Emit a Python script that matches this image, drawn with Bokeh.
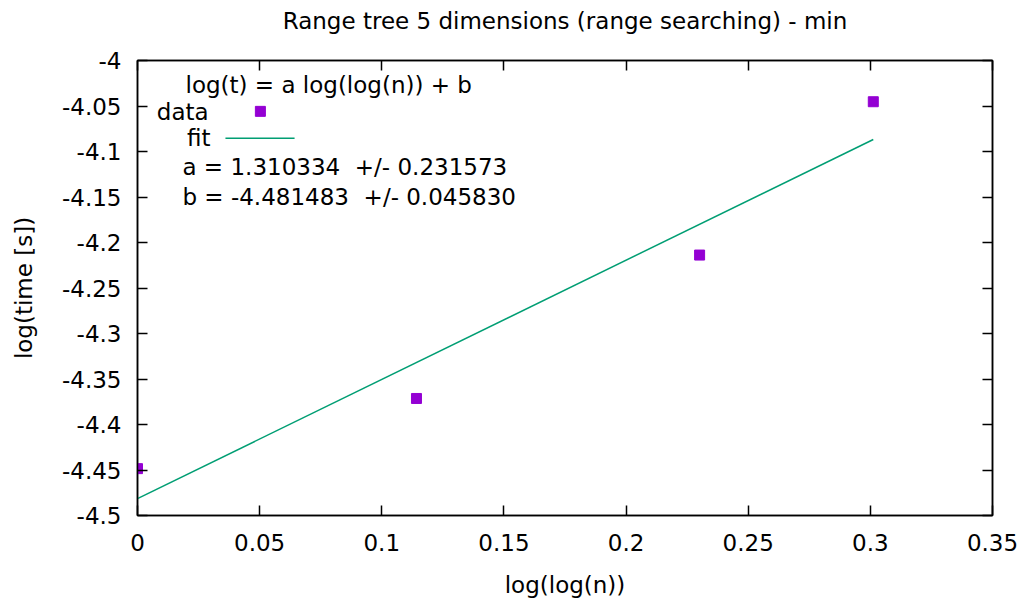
from bokeh.plotting import figure
from bokeh.models import LinearAxis, FixedTicker, CustomJSTickFormatter, Range1d
from bokeh.embed import file_html
from bokeh.resources import INLINE
from bokeh.core.properties import value

# data
x_data = [0.0, 0.1142, 0.2301, 0.3012]
y_data = [-4.4485, -4.3714, -4.2138, -4.0453]
fit_a = 1.310334
fit_a_err = 0.231573
fit_b = -4.481483
fit_b_err = 0.045830
x_ticks = [0.0, 0.05, 0.1, 0.15, 0.2, 0.25, 0.3, 0.35]
y_ticks = [-4.5, -4.45, -4.4, -4.35, -4.3, -4.25, -4.2, -4.15, -4.1, -4.05, -4.0]
title_text = "Range tree 5 dimensions (range searching) - min"

FONT = "DejaVu Sans"
FS = "23px"

p = figure(width=1019, height=600, output_backend="svg", toolbar_location=None,
           x_range=Range1d(0, 0.35), y_range=Range1d(-4.5, -4.0),
           min_border_left=137, min_border_right=27, min_border_top=60, min_border_bottom=84,
           x_axis_label="log(log(n))", y_axis_label="log(time [s])")
p.title.visible = False
p.grid.visible = False
p.outline_line_color = "black"
p.outline_line_width = 1.5
p.background_fill_color = "white"
p.border_fill_color = "white"

fmt = CustomJSTickFormatter(code="return (Math.round(tick*100)/100).toString();")

for ax, ticks in ((p.xaxis[0], x_ticks), (p.yaxis[0], y_ticks)):
    ax.ticker = FixedTicker(ticks=ticks)
    ax.formatter = fmt
    ax.major_tick_in = 10
    ax.major_tick_out = 0
    ax.minor_tick_line_color = None
    ax.major_tick_line_color = "black"
    ax.major_tick_line_width = 1.5
    ax.axis_line_color = "black"
    ax.axis_line_width = 1.5
    ax.major_label_text_font = FONT
    ax.major_label_text_font_size = FS
    ax.major_label_text_color = "black"
    ax.axis_label_text_font = FONT
    ax.axis_label_text_font_size = FS
    ax.axis_label_text_font_style = "normal"
    ax.axis_label_text_color = "black"
p.xaxis[0].major_label_standoff = 18
p.xaxis[0].axis_label_standoff = 18
p.yaxis[0].major_label_standoff = 16
p.yaxis[0].axis_label_standoff = 22

blank = CustomJSTickFormatter(code="return '';")
for loc, ticks in (("above", x_ticks), ("right", y_ticks)):
    m = LinearAxis(ticker=FixedTicker(ticks=ticks), formatter=blank,
                   major_tick_in=10, major_tick_out=0,
                   minor_tick_line_color=None, major_label_standoff=0,
                   major_tick_line_width=1.5, axis_line_width=1.5)
    if loc == "above":
        m.axis_label = title_text
        m.axis_label_standoff = 27
        m.axis_label_text_font = FONT
        m.axis_label_text_font_size = FS
        m.axis_label_text_font_style = "normal"
        m.axis_label_text_color = "black"
    p.add_layout(m, loc)

# fit line
fx = [min(x_data), max(x_data)]
fy = [fit_a * v + fit_b for v in fx]
p.line(fx, fy, line_color="#009E73", line_width=1.5)
p.scatter(x_data, y_data, marker="square", size=10, fill_color="#9400D3", line_color="#9400D3")

# key
tkw = dict(text_font=value(FONT), text_font_size=value(FS), text_color="black", text_baseline="middle")
p.text([0.01965], [-4.0274], text=["log(t) = a log(log(n)) + b"], text_align="left", **tkw)
p.text([0.0291], [-4.0570], text=["data"], text_align="right", **tkw)
p.text([0.0299], [-4.0855], text=["fit"], text_align="right", **tkw)
p.text([0.0184], [-4.1173], text=["a = %.6f\u00a0 +/- %.6f" % (fit_a, fit_a_err)], text_align="left", **tkw)
p.text([0.0184], [-4.1502], text=["b = %.6f\u00a0 +/- %.6f" % (fit_b, fit_b_err)], text_align="left", **tkw)
p.scatter([0.0503], [-4.0559], marker="square", size=10, fill_color="#9400D3", line_color="#9400D3")
p.line([0.0360, 0.0643], [-4.0855, -4.0855], line_color="#009E73", line_width=1.5)

open("out.html", "w").write(file_html(p, INLINE))
